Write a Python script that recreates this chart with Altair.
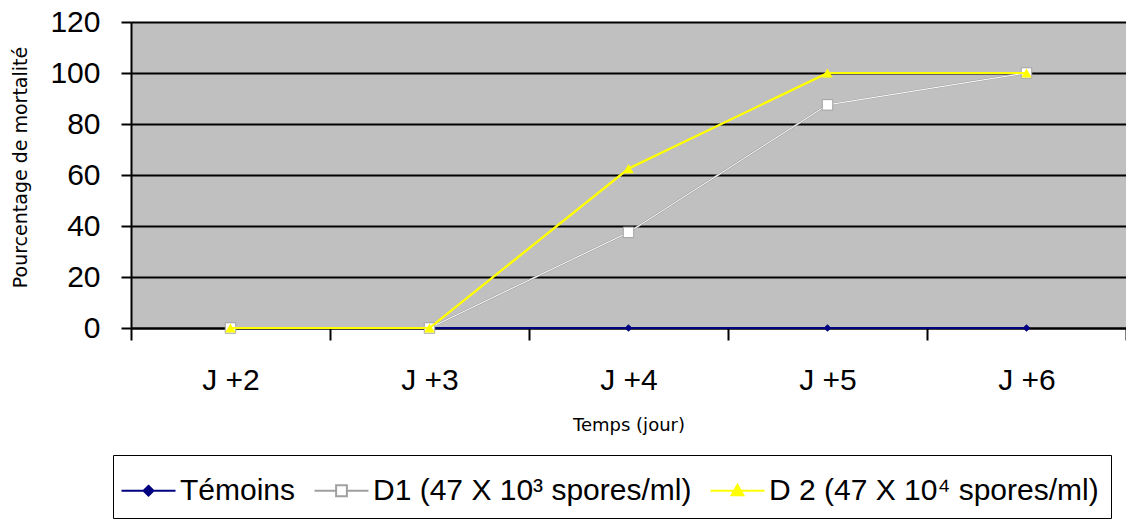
import altair as alt
import pandas as pd

days = ["J +2", "J +3", "J +4", "J +5", "J +6"]
series = ["Témoins", "D1 (47 X 10³ spores/ml)", "D 2 (47 X 10⁴ spores/ml)"]
temoins = [0, 0, 0, 0, 0]
d1 = [0, 0, 37.5, 87.5, 100]
d2 = [0, 0, 62.5, 100, 100]
y_ticks = [0, 20, 40, 60, 80, 100, 120]

rows = []
for name, vals in zip(series, [temoins, d1, d2]):
    for d, v in zip(days, vals):
        rows.append({"day": d, "series": name, "value": v})
df = pd.DataFrame(rows)

FONT = "Liberation Sans"
TFONT = "DejaVu Sans"
x_enc = alt.X(
    "day:N", sort=days, bandPosition=0.5,
    scale=alt.Scale(type="band", paddingInner=0, paddingOuter=0),
    axis=alt.Axis(title="Temps (jour)", labelAngle=0, tickBand="extent", tickSize=12,
                  tickColor="black", domainColor="black", domainWidth=2, tickWidth=2,
                  labelFont=FONT, labelFontSize=30, labelColor="black", labelPadding=25,
                  titleFont=TFONT, titleFontSize=18, titleFontWeight="normal", titleColor="black",
                  titleY=97, titleBaseline="middle", grid=False),
)
y_enc = alt.Y(
    "value:Q", scale=alt.Scale(domain=[0, 120], nice=False),
    axis=alt.Axis(title="Pourcentage de mortalité", values=y_ticks, tickSize=10, tickWidth=2,
                  tickColor="black", domainColor="black", domainWidth=2,
                  grid=True, gridColor="black", gridWidth=2,
                  labelFont=FONT, labelFontSize=30, labelColor="black", labelPadding=21,
                  titleFont=TFONT, titleFontSize=19, titleFontWeight="normal", titleColor="black",
                  titleX=-111, titleY=145, titleAlign="center", titleBaseline="middle"),
)

shape_expr = ("datum.index === 0 ? 'M-1.2,0H1.2M0,-0.22L0.22,0L0,0.22L-0.22,0Z' : "
              "datum.index === 1 ? 'M-1.2,0H-0.24M0.24,0H1.2M-0.24,-0.24H0.24V0.24H-0.24Z' : "
              "'M-1.2,0H1.2M0,-0.26L0.26,0.2L-0.26,0.2Z'")
fill_expr = "datum.index === 0 ? '#000080' : datum.index === 1 ? '#ffffff' : '#ffff00'"
stroke_expr = "datum.index === 0 ? '#000080' : datum.index === 1 ? '#a0a0a0' : '#ffff00'"

legend = alt.Legend(
    orient="none", legendX=-18, legendY=433, direction="horizontal", title=None,
    fillColor="white", strokeColor="black", padding=12, symbolSize=2025,
    labelFont=FONT, labelFontSize=30, labelColor="black", labelOffset=8,
    columnPadding=14, symbolStrokeWidth=2, labelLimit=0,
    symbolType=alt.ExprRef(expr=shape_expr),
    symbolFillColor=alt.ExprRef(expr=fill_expr),
    symbolStrokeColor=alt.ExprRef(expr=stroke_expr),
    symbolOpacity=1,
)

color_scale = alt.Scale(domain=series, range=["#000080", "#a0a0a0", "#ffff00"])

base = alt.Chart(df).encode(x=x_enc, y=y_enc)

lines_all = base.mark_line(strokeWidth=2).encode(
    color=alt.Color("series:N", scale=color_scale, legend=legend, sort=series),
    detail="series:N",
)
tem_pts = base.transform_filter(alt.datum.series == series[0]).mark_point(
    shape="diamond", filled=True, size=60, color="#000080", opacity=1)
d1_inner = base.transform_filter(alt.datum.series == series[1]).mark_line(
    strokeWidth=1, color="#ffffff")
d1_pts = base.transform_filter(alt.datum.series == series[1]).mark_point(
    shape="square", filled=True, size=110, fill="#ffffff", stroke="#a0a0a0", strokeWidth=1, opacity=1)
d2_line = base.transform_filter(alt.datum.series == series[2]).mark_line(
    strokeWidth=2, color="#ffff00")
d2_pts = base.transform_filter(alt.datum.series == series[2]).mark_point(
    shape="triangle-up", filled=True, size=110, color="#ffff00", opacity=1)

chart = alt.layer(lines_all, tem_pts, d1_inner, d1_pts, d2_line, d2_pts).properties(
    width=995, height=306,
    autosize=alt.AutoSizeParams(type="none"),
    padding={"left": 131, "top": 22, "right": 0, "bottom": 197},
    background="white",
).configure_view(fill="#c0c0c0", stroke=None)

chart.save("out.html", embed_options={"renderer": "svg", "actions": False})
